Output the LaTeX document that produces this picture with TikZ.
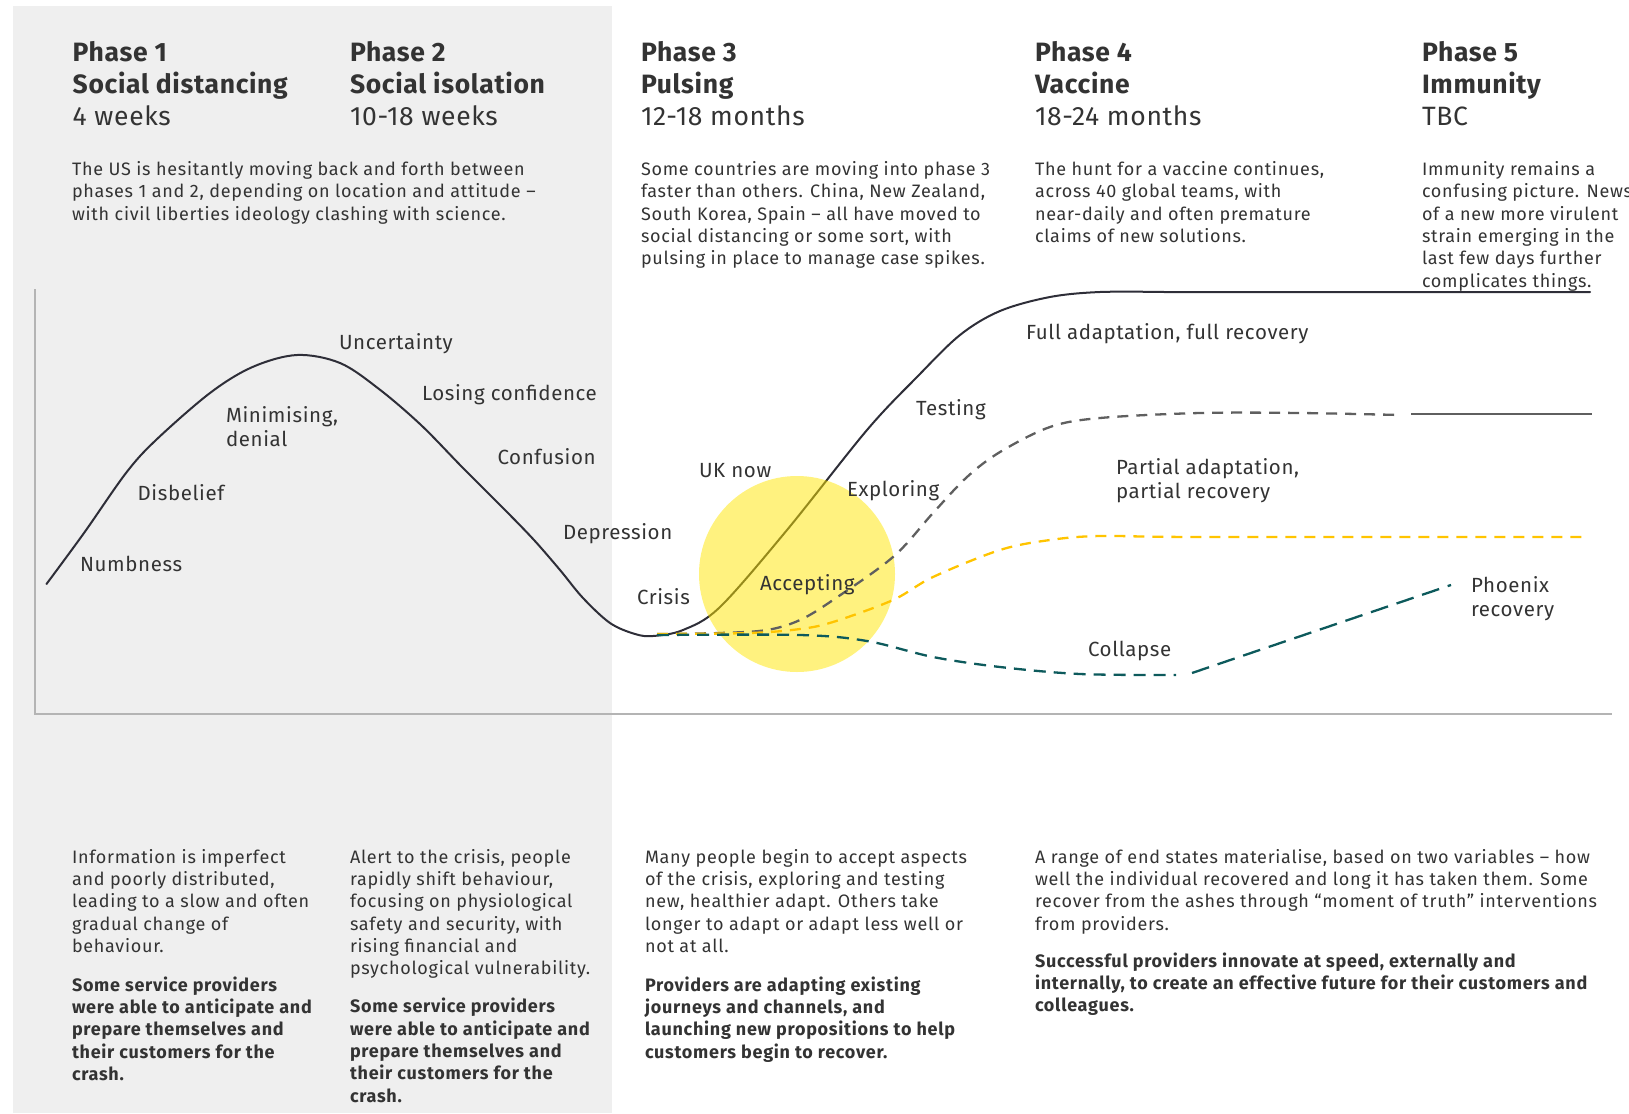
\documentclass[tikz,border=0pt]{standalone}
\usepackage{fontspec}
\setmainfont{Fira Sans}
\newfontfamily\bodyfam{Fira Sans}[LetterSpace=4.0]
\newfontfamily\labfam{Fira Sans}[LetterSpace=3.0]
\newfontfamily\headfam{Fira Sans}[LetterSpace=2.5]
\definecolor{panel}{HTML}{EFEFEF}
\definecolor{axisgray}{HTML}{B4B4B4}
\definecolor{ink}{HTML}{2E2E38}
\definecolor{inktext}{HTML}{333333}
\definecolor{midgray}{HTML}{5F5F5F}
\definecolor{eyyellow}{HTML}{FFC400}
\definecolor{circleyellow}{HTML}{FFE600}
\definecolor{teal}{HTML}{0D5A5C}
\begin{document}
\begin{tikzpicture}[x=1pt,y=-1pt,
  txt/.style={inner sep=0pt, outer sep=0pt, text=inktext, align=left, anchor=north west},
  body/.style={txt, font=\bodyfam\fontsize{18}{22.3}\selectfont},
  head/.style={txt, font=\headfam\fontsize{26.5}{32.2}\selectfont},
  lab/.style={inner sep=0pt, outer sep=0pt, text=inktext, anchor=base west, font=\labfam\fontsize{20.5}{24.5}\selectfont},
  lab2/.style={txt, font=\labfam\fontsize{20.5}{24.5}\selectfont},
  curve/.style={draw=ink, line width=2pt, line cap=round},
  grayline/.style={draw=midgray, line width=2.3pt, dash pattern=on 11pt off 8pt},
  yellowline/.style={draw=eyyellow, line width=2.3pt, dash pattern=on 11pt off 8pt},
  tealline/.style={draw=teal, line width=2.3pt, dash pattern=on 12pt off 8pt},
  phoenixline/.style={draw=teal, line width=2.3pt, dash pattern=on 18pt off 9pt}
]
\useasboundingbox (0,0) rectangle (1629,1113);

% shaded band behind phases 1 and 2
\fill[panel] (12.5,6) rectangle (612,1113);

% axes
\draw[axisgray, line width=1.2pt] (35,289) -- (35,714) -- (1612,714);

% main emotional curve
\draw[curve] plot[smooth, tension=0.55] coordinates {
  (46.5,584) (84,533) (126,473) (156,440) (210,393) (252.5,367) (297,355)
  (340,363) (379,389) (421,425) (463,468) (505,510) (534,540) (560,570)
  (583,598) (610,623) (635,634) (653,636) (683,630) (720,607) (787,530)
  (867,430) (917,377) (960,335) (1000,311) (1050,297) (1100,292) (1164,292)}
  -- (1590,292);

% "UK now" highlight
\fill[circleyellow, opacity=0.5] (797,574) circle[radius=98];

% partial recovery
\draw[grayline] plot[smooth, tension=0.55] coordinates {
  (657,634) (720,633) (767,630) (800,620) (833,600) (893,557) (933,513)
  (967,477) (1000,452) (1050,427) (1100,418) (1200,413) (1300,413) (1400,415)};
\draw[draw=midgray, line width=2.3pt] (1411,414) -- (1592,414);

% moderate recovery
\draw[yellowline] plot[smooth, tension=0.55] coordinates {
  (657,634) (750,633) (800,629) (833,622) (893,600) (933,577) (1000,550)
  (1050,540) (1100,536) (1200,537) (1584,537)};

% collapse and phoenix recovery
\draw[tealline] plot[smooth, tension=0.55] coordinates {
  (657,635) (800,635) (867,641) (933,657) (1000,667) (1080,674) (1176,675)};
\draw[phoenixline] (1192,673) -- (1451,585);

% phase headings
\node[head] (h1) at (72.7,38.6) {\strut\textbf{Phase 1}\\\textbf{Social distancing}\\4 weeks};
\node[head] (h2) at (350,38.6) {\strut\textbf{Phase 2}\\\textbf{Social isolation}\\10-18 weeks};
\node[head] (h3) at (641,38.6) {\strut\textbf{Phase 3}\\\textbf{Pulsing}\\12-18 months};
\node[head] (h4) at (1035,38.6) {\strut\textbf{Phase 4}\\\textbf{Vaccine}\\18-24 months};
\node[head] (h5) at (1422,38.6) {\strut\textbf{Phase 5}\\\textbf{Immunity}\\TBC};

% phase descriptions
\node[body] (d1) at (72,159.9) {\strut The US is hesitantly moving back and forth between\\phases 1 and 2, depending on location and attitude –\\with civil liberties ideology clashing with science.};
\node[body] (d3) at (641,159.9) {\strut Some countries are moving into phase 3\\faster than others. China, New Zealand,\\South Korea, Spain – all have moved to\\social distancing or some sort, with\\pulsing in place to manage case spikes.};
\node[body] (d4) at (1035,159.9) {\strut The hunt for a vaccine continues,\\across 40 global teams, with\\near-daily and often premature\\claims of new solutions.};
\node[body] (d5) at (1422,159.9) {\strut Immunity remains a\\confusing picture. News\\of a new more virulent\\strain emerging in the\\last few days further\\complicates things.};

% curve labels
\node[lab] (numb) at (80,571.1) {Numbness};
\node[lab] (disb) at (137.6,500.1) {Disbelief};
\node[lab2] (mini) at (226,404.9) {\strut Minimising,\\denial};
\node[lab] (unce) at (339,349.1) {Uncertainty};
\node[lab] (losi) at (422,400.1) {Losing confidence};
\node[lab] (conf) at (497.5,464.1) {Confusion};
\node[lab] (depr) at (563,539.1) {Depression};
\node[lab] (cris) at (637,604.1) {Crisis};
\node[lab] (uk) at (699,477.1) {UK now};
\node[lab] (expl) at (847,496.1) {Exploring};
\node[lab] (acce) at (760,590.1) {Accepting};
\node[lab] (test) at (916,415.1) {Testing};
\node[lab] (full) at (1026,339.1) {Full adaptation, full recovery};
\node[lab2] (part) at (1116,456.9) {\strut Partial adaptation,\\partial recovery};
\node[lab] (coll) at (1088,656.1) {Collapse};
\node[lab2] (phoe) at (1471,574.9) {\strut Phoenix\\recovery};

% bottom commentary
\node[body] (b1) at (72,847.7) {\strut Information is imperfect\\and poorly distributed,\\leading to a slow and often\\gradual change of\\behaviour.};
\node[body] (b1s) at (72,975.5) {\strut\textbf{Some service providers}\\\textbf{were able to anticipate and}\\\textbf{prepare themselves and}\\\textbf{their customers for the}\\\textbf{crash.}};
\node[body] (b2) at (350,847.7) {\strut Alert to the crisis, people\\rapidly shift behaviour,\\focusing on physiological\\safety and security, with\\rising financial and\\psychological vulnerability.};
\node[body] (b2s) at (350,997.3) {\strut\textbf{Some service providers}\\\textbf{were able to anticipate and}\\\textbf{prepare themselves and}\\\textbf{their customers for the}\\\textbf{crash.}};
\node[body] (b3) at (645,847.7) {\strut Many people begin to accept aspects\\of the crisis, exploring and testing\\new, healthier adapt. Others take\\longer to adapt or adapt less well or\\not at all.};
\node[body] (b3s) at (645,975.5) {\strut\textbf{Providers are adapting existing}\\\textbf{journeys and channels, and}\\\textbf{launching new propositions to help}\\\textbf{customers begin to recover.}};
\node[body] (b4) at (1035,847.7) {\strut A range of end states materialise, based on two variables – how\\well the individual recovered and long it has taken them. Some\\recover from the ashes through “moment of truth” interventions\\from providers.};
\node[body] (b4s) at (1035,951.6) {\strut\textbf{Successful providers innovate at speed, externally and}\\\textbf{internally, to create an effective future for their customers and}\\\textbf{colleagues.}};
\end{tikzpicture}
\end{document}
